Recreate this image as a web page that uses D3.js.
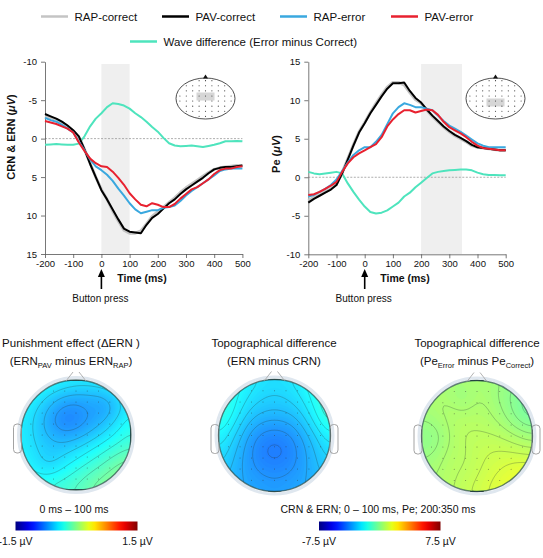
<!DOCTYPE html>
<html>
<head>
<meta charset="utf-8">
<script src="https://cdn.jsdelivr.net/npm/d3@7"></script>
<style>
  body { margin: 0; background: #fff; }
  text { font-family: "Liberation Sans", Arial, Helvetica, sans-serif; fill: #111; }
</style>
</head>
<body>
<svg id="fig" width="543" height="558"></svg>
<script>
// ---- data ----
const times = [-200,-180,-160,-140,-120,-100,-80,-60,-40,-20,0,20,40,60,80,100,120,140,160,180,200,220,240,260,280,300,320,340,360,380,400,420,440,460,480,500];

// CRN & ERN panel (uV, plotted with negative up)
const ernRapCorrect = [-2.9,-2.7,-2.5,-2.1,-1.6,-1.0,-0.2,1.4,3.2,5.0,6.6,7.9,9.4,10.7,11.9,12.3,12.3,12.0,11.1,10.1,9.5,8.9,8.3,7.7,7.0,6.4,5.9,5.4,4.9,4.4,4.0,3.8,3.7,3.6,3.5,3.5];
const ernPavCorrect = [-3.2,-2.9,-2.6,-2.2,-1.7,-1.1,-0.3,1.4,3.3,5.0,6.7,7.9,9.2,10.5,11.7,12.1,12.2,12.3,11.2,10.3,9.8,9.1,8.4,7.9,7.2,6.6,6.1,5.6,5.1,4.5,4.0,3.8,3.7,3.7,3.6,3.5];
const ernRapError   = [-2.7,-2.4,-2.2,-1.8,-1.3,-0.8,0.4,1.5,2.7,3.6,4.1,4.7,5.5,6.5,7.4,8.4,9.2,9.7,9.5,9.3,9.3,9.0,8.9,8.7,8.1,7.4,6.8,6.3,5.8,5.3,4.8,4.2,4.0,3.9,3.9,3.9];
const ernPavError   = [-2.3,-2.1,-1.9,-1.6,-1.3,-0.8,0.5,1.6,2.6,3.2,3.6,3.7,4.3,5.1,6.0,7.1,7.9,8.6,8.8,8.4,8.6,8.9,8.9,8.5,7.8,7.2,6.6,6.3,5.8,5.3,4.6,4.1,3.9,3.9,3.7,3.6];
const ernWaveDiff   = [0.8,0.75,0.7,0.75,0.8,0.8,0.65,-0.3,-1.6,-2.6,-3.3,-4.1,-4.6,-4.5,-4.3,-3.9,-3.3,-2.8,-2.2,-1.5,-0.9,-0.1,0.6,0.9,1.0,0.95,0.9,1.0,1.1,0.95,0.8,0.6,0.35,0.35,0.3,0.35];

// Pe panel (uV)
const peRapCorrect = [-3.0,-2.6,-2.3,-1.9,-1.5,-0.9,0.6,2.4,4.2,5.9,7.1,8.4,9.6,10.7,11.7,12.3,12.3,12.0,11.0,10.1,9.6,8.7,7.9,7.2,6.5,5.9,5.4,5.0,4.6,4.1,3.9,3.8,3.7,3.6,3.5,3.5];
const pePavCorrect = [-3.3,-2.8,-2.4,-2.0,-1.6,-1.0,0.5,2.3,4.1,5.8,7.0,8.3,9.4,10.5,11.5,12.2,12.2,12.3,11.2,10.3,9.7,8.8,8.0,7.3,6.6,6.0,5.5,5.1,4.7,4.2,3.9,3.8,3.7,3.6,3.5,3.5];
const peRapError   = [-2.5,-2.3,-1.9,-1.5,-1.0,-0.3,0.8,1.9,2.9,3.5,3.9,3.9,4.6,5.5,6.9,8.3,9.1,9.6,9.4,9.1,9.1,8.9,8.7,8.0,7.3,6.7,6.3,5.9,5.4,4.9,4.4,4.1,3.9,3.9,3.9,3.9];
const pePavError   = [-2.3,-2.2,-1.9,-1.5,-1.1,-0.6,0.7,1.8,2.6,3.1,3.5,3.9,4.3,5.2,6.6,7.5,8.2,8.7,8.7,8.4,8.6,8.8,8.7,8.1,7.2,6.5,6.1,5.7,5.2,4.6,4.1,3.8,3.7,3.6,3.5,3.5];
const peWaveDiff   = [0.7,0.5,0.4,0.5,0.6,0.7,0.5,-0.8,-1.9,-2.9,-3.8,-4.5,-4.7,-4.6,-4.3,-3.8,-3.3,-2.5,-2.0,-1.3,-0.7,-0.1,0.5,0.7,0.8,0.9,0.95,1.0,1.0,0.9,0.6,0.4,0.3,0.3,0.25,0.25];

const seriesNames  = ["RAP-correct", "PAV-correct", "RAP-error", "PAV-error", "Wave difference (Error minus Correct)"];
const seriesColors = ["#c4c4c4", "#000000", "#3aa8df", "#e8212f", "#4ee4bd"];
const xTicks = [-200,-100,0,100,200,300,400,500];
const ernTicks = [-10,-5,0,5,10,15];
const peTicks = [-10,-5,0,5,10,15];

// topographies: 9x9 grid values over the head, rows front->back, cols left->right (uV)
const topoPunish = [
  [-0.30,-0.32,-0.35,-0.40,-0.42,-0.42,-0.40,-0.35,-0.30],
  [-0.35,-0.40,-0.50,-0.58,-0.62,-0.62,-0.60,-0.50,-0.38],
  [-0.40,-0.48,-0.62,-0.74,-0.76,-0.68,-0.72,-0.58,-0.42],
  [-0.42,-0.52,-0.68,-0.80,-0.78,-0.70,-0.62,-0.48,-0.34],
  [-0.42,-0.52,-0.62,-0.68,-0.66,-0.58,-0.48,-0.38,-0.28],
  [-0.40,-0.50,-0.55,-0.56,-0.50,-0.42,-0.34,-0.26,-0.20],
  [-0.38,-0.46,-0.56,-0.46,-0.38,-0.30,-0.22,-0.12,-0.06],
  [-0.34,-0.38,-0.40,-0.34,-0.26,-0.18,-0.10,-0.02,0.02],
  [-0.30,-0.30,-0.28,-0.22,-0.18,-0.10,-0.02,0.02,0.04]
];
const topoErnCrn = [
  [-1.4,-1.6,-2.0,-2.3,-2.4,-2.3,-2.0,-1.5,-1.2],
  [-1.3,-1.7,-2.2,-2.5,-2.6,-2.5,-2.2,-1.6,-1.1],
  [-1.2,-1.8,-2.5,-2.8,-2.9,-2.8,-2.5,-1.8,-1.1],
  [-1.5,-2.1,-2.9,-3.3,-3.4,-3.3,-2.9,-2.1,-1.4],
  [-1.9,-2.5,-3.3,-3.8,-3.9,-3.8,-3.3,-2.6,-1.9],
  [-2.2,-2.8,-3.5,-4.0,-4.2,-4.0,-3.5,-2.9,-2.3],
  [-2.5,-3.0,-3.5,-3.9,-4.0,-3.9,-3.5,-3.0,-2.6],
  [-2.8,-3.1,-3.4,-3.6,-3.7,-3.6,-3.4,-3.1,-2.8],
  [-3.0,-3.2,-3.3,-3.4,-3.5,-3.4,-3.3,-3.2,-3.0]
];
const topoPe = [
  [0.5,0.5,0.4,0.4,0.5,0.4,0.2,0.0,-0.2],
  [0.5,0.5,0.4,0.2,0.5,0.4,0.1,-0.2,-0.4],
  [0.4,0.5,0.6,0.4,0.6,0.5,0.2,-0.2,-0.5],
  [0.2,0.3,0.6,0.7,0.7,0.6,0.4,0.0,-0.2],
  [0.0,0.1,0.5,0.8,0.8,0.8,0.7,0.5,0.3],
  [0.1,0.2,0.6,0.7,0.9,1.0,1.0,0.9,0.8],
  [0.3,0.4,0.7,0.7,0.9,1.1,1.2,1.3,1.3],
  [0.4,0.5,0.7,0.8,1.0,1.2,1.4,1.6,1.6],
  [0.5,0.6,0.7,0.9,1.1,1.3,1.5,1.7,1.7]
];
const punishRange = [-1.5, 1.5];
const diffRange = [-7.5, 7.5];

// ---- helpers ----
const svg = d3.select("#fig");

function jet(p) {
  p = Math.max(0, Math.min(1, p));
  const c = v => 255 * Math.max(0, Math.min(1, v));
  return d3.rgb(c(Math.min(4*p - 1.5, -4*p + 4.5)), c(Math.min(4*p - 0.5, -4*p + 3.5)), c(Math.min(4*p + 0.5, -4*p + 2.5)));
}

function yTitle(g, x, y, label) {
  const t = g.append("text")
    .attr("transform", "translate(" + x + "," + y + ") rotate(-90)")
    .attr("text-anchor", "middle")
    .style("font-size", "11px").style("font-weight", "bold");
  t.append("tspan").text(label + " (");
  t.append("tspan").style("font-style", "italic").text("\u03bcV");
  t.append("tspan").text(")");
}

function lineChart(cfg) {
  const g = svg.append("g");
  const x = d3.scaleLinear().domain([-200, 500]).range(cfg.xRange);
  const y = d3.scaleLinear().domain([-10, 15]).range(cfg.yRange);

  g.append("rect")
    .attr("x", x(cfg.shade[0])).attr("width", x(cfg.shade[1]) - x(cfg.shade[0]))
    .attr("y", 64).attr("height", 254 - 64)
    .attr("fill", "#efefef");

  g.append("line")
    .attr("x1", x(-200)).attr("x2", x(500)).attr("y1", y(0)).attr("y2", y(0))
    .attr("stroke", "#999").attr("stroke-width", 0.8).attr("stroke-dasharray", "2,1.5");

  const fmt = d => String(d);
  const yAxis = g.append("g")
    .attr("transform", "translate(" + cfg.xRange[0] + ",0)")
    .call(d3.axisLeft(y).tickValues(cfg.yTicks).tickFormat(fmt).tickSize(4).tickSizeOuter(0).tickPadding(4));
  const xAxis = g.append("g")
    .attr("transform", "translate(0," + d3.max(cfg.yRange) + ")")
    .call(d3.axisBottom(x).tickValues(xTicks).tickFormat(fmt).tickSize(4).tickSizeOuter(0).tickPadding(2));
  [xAxis, yAxis].forEach(a => {
    a.selectAll("path, line").attr("stroke", "#555").attr("stroke-width", 0.8);
    a.selectAll("text").style("font-size", "9.5px").attr("fill", "#111").style("font-family", '"Liberation Sans", Arial, sans-serif');
  });

  const line = d3.line().x((d, i) => x(times[i])).y(d => y(d));
  const widths = [3, 2, 2, 2, 2];
  [4, 0, 1, 2, 3].forEach(k => {
    g.append("path").datum(cfg.series[k])
      .attr("d", line).attr("fill", "none")
      .attr("stroke", seriesColors[k]).attr("stroke-width", widths[k])
      .attr("stroke-linejoin", "round");
  });

  g.append("text").attr("x", cfg.timeX).attr("y", 281.5)
    .attr("text-anchor", "middle").style("font-size", "10.5px").style("font-weight", "bold")
    .text("Time (ms)");

  const x0 = x(0);
  g.append("line").attr("x1", x0).attr("x2", x0).attr("y1", 275).attr("y2", 289)
    .attr("stroke", "#000").attr("stroke-width", 1.6);
  g.append("path").attr("d", "M" + (x0 - 3.5) + ",277L" + x0 + ",269L" + (x0 + 3.5) + ",277Z").attr("fill", "#000");
  g.append("text").attr("x", x0 - 1).attr("y", 301.5).attr("text-anchor", "middle")
    .style("font-size", "10px").text("Button press");

  yTitle(g, cfg.titleX, cfg.titleY, cfg.title);

  // electrode inset
  const ins = g.append("g").attr("transform", "translate(" + cfg.inset[0] + "," + cfg.inset[1] + ")");
  ins.append("ellipse").attr("rx", 29.5).attr("ry", 20.5).attr("fill", "#fff").attr("stroke", "#222").attr("stroke-width", 0.8);
  ins.append("rect").attr("x", cfg.roi[0]).attr("y", cfg.roi[1]).attr("width", 18).attr("height", 8).attr("fill", "#d6d6d6");
  ins.append("path").attr("d", "M-2.5,-20L0,-24L2.5,-20Z").attr("fill", "#111");
  const dots = [];
  for (let r = -3.5; r <= 3.5; r++) for (let c = -4; c <= 4; c++) {
    const px = c * 6.4, py = r * 5.1;
    if ((px * px) / (27 * 27) + (py * py) / (19.5 * 19.5) <= 1) dots.push([px, py]);
  }
  ins.selectAll("circle.e").data(dots).enter().append("circle")
    .attr("cx", d => d[0]).attr("cy", d => d[1]).attr("r", 0.55).attr("fill", "#333");
}

lineChart({
  xRange: [45, 242.4], yRange: [61.7, 254], yTicks: ernTicks, shade: [0, 100],
  series: [ernRapCorrect, ernPavCorrect, ernRapError, ernPavError, ernWaveDiff],
  title: "CRN & ERN", titleX: 15, titleY: 137, timeX: 142, inset: [205.5, 98.5], roi: [-9, -6]
});
lineChart({
  xRange: [308.3, 505.7], yRange: [254.3, 61.7], yTicks: peTicks, shade: [200, 345],
  series: [peRapCorrect, pePavCorrect, peRapError, pePavError, peWaveDiff],
  title: "Pe", titleX: 280, titleY: 154, timeX: 405, inset: [495.5, 98.5], roi: [-9, 0]
});

// ---- legend ----
const legendPos = [[41, 16.5], [162, 16.5], [280, 16.5], [391, 16.5], [130, 41.5]];
const leg = svg.append("g");
seriesNames.forEach((name, i) => {
  const [lx, ly] = legendPos[i];
  leg.append("line").attr("x1", lx).attr("x2", lx + 27).attr("y1", ly).attr("y2", ly)
    .attr("stroke", seriesColors[i]).attr("stroke-width", 2.5);
  leg.append("text").attr("x", lx + 33.5).attr("y", ly + 4).style("font-size", "11.5px").text(name);
});

// ---- topographic maps ----
function topoMap(grid, cx, cy, r, domain, lineStep, ears, id) {
  const color = d3.scaleSequential(jet).domain(domain);
  const n = grid.length, f = 5, m = (n - 1) * f + 1;
  const vals = new Array(m * m);
  for (let j = 0; j < m; j++) for (let i = 0; i < m; i++) {
    const gx = i / f, gy = j / f;
    const i0 = Math.min(n - 2, Math.floor(gx)), j0 = Math.min(n - 2, Math.floor(gy));
    const tx = gx - i0, ty = gy - j0;
    vals[j * m + i] = (1 - ty) * ((1 - tx) * grid[j0][i0] + tx * grid[j0][i0 + 1]) +
                      ty * ((1 - tx) * grid[j0 + 1][i0] + tx * grid[j0 + 1][i0 + 1]);
  }
  let field = vals;
  if (d3.blur2) field = d3.blur2({data: Float64Array.from(vals), width: m, height: m}, 2).data;
  const path = d3.geoPath(d3.geoIdentity().scale(2 * r / m).translate([cx - r, cy - r]));

  const g = svg.append("g");
  g.append("clipPath").attr("id", id).append("circle").attr("cx", cx).attr("cy", cy).attr("r", r);
  g.append("circle").attr("cx", cx).attr("cy", cy).attr("r", r + 2.5).attr("fill", "none")
    .attr("stroke", "#dfe7ef").attr("stroke-width", 3);

  const step = (domain[1] - domain[0]) / 200;
  const fillT = d3.range(domain[0] - step, domain[1], step);
  const fills = d3.contours().size([m, m]).thresholds(fillT)(field);
  const body = g.append("g").attr("clip-path", "url(#" + id + ")");
  const fg = body.append("g").attr("opacity", 0.88);
  fg.append("rect").attr("x", cx - r).attr("y", cy - r).attr("width", 2 * r).attr("height", 2 * r).attr("fill", color(d3.min(field)));
  fg.selectAll("path").data(fills.filter(c => c.coordinates.length)).enter().append("path")
    .attr("d", path).attr("fill", c => color(c.value + step / 2));

  const lineT = d3.range(domain[0], domain[1] + 1e-9, lineStep);
  const lines = d3.contours().size([m, m]).thresholds(lineT)(field);
  body.selectAll("path.iso").data(lines.filter(c => c.coordinates.length)).enter().append("path")
    .attr("class", "iso").attr("d", path).attr("fill", "none")
    .attr("stroke", "#2b3b3b").attr("stroke-opacity", 0.55).attr("stroke-width", 0.5);

  const dots = [];
  for (let a = -4; a <= 4; a++) for (let b = -4; b <= 4; b++) {
    const px = b * 0.205 * r, py = a * 0.2 * r;
    if (px * px + py * py <= (0.9 * r) * (0.9 * r)) dots.push([cx + px, cy + py]);
  }
  body.selectAll("circle.e").data(dots).enter().append("circle")
    .attr("cx", d => d[0]).attr("cy", d => d[1]).attr("r", 0.5).attr("fill", "#333").attr("opacity", 0.6);

  g.append("circle").attr("cx", cx).attr("cy", cy).attr("r", r).attr("fill", "none")
    .attr("stroke", "#234848").attr("stroke-opacity", 0.7).attr("stroke-width", 1.4);
  g.append("path").attr("d", "M" + (cx - 10) + "," + (cy - r + 1) + "L" + (cx - 3) + "," + (cy - r - 8) +
      "M" + (cx + 10) + "," + (cy - r + 1) + "L" + (cx + 3) + "," + (cy - r - 8))
    .attr("fill", "none").attr("stroke", "#aaa").attr("stroke-width", 0.9);
  ears.forEach(s => {
    g.append("rect").attr("x", s < 0 ? cx - r - 7.5 : cx + r - 0.5).attr("y", cy - 11)
      .attr("width", 8).attr("height", 29).attr("rx", 3.5)
      .attr("fill", "none").attr("stroke", "#999").attr("stroke-width", 0.9);
  });
}

topoMap(topoPunish, 76, 435, 55, punishRange, 0.1, [-1], "clipA");
topoMap(topoErnCrn, 274.5, 435.5, 56, diffRange, 0.35, [-1, 1], "clipB");
topoMap(topoPe, 477, 436, 55.5, diffRange, 0.25, [-1, 1], "clipC");

// titles (plain strings, or {sub: "..."} for subscripts)
function title(cx, parts1, parts2) {
  [parts1, parts2].forEach((parts, row) => {
    const t = svg.append("text").attr("x", cx).attr("y", row ? 364.5 : 347)
      .attr("text-anchor", "middle").style("font-size", "11.5px");
    let shifted = false;
    parts.forEach(p => {
      if (typeof p === "string") {
        t.append("tspan").attr("dy", shifted ? -3 : 0).text(p);
        shifted = false;
      } else {
        t.append("tspan").attr("dy", 3).style("font-size", "7.5px").text(p.sub);
        shifted = true;
      }
    });
  });
}
title(71, ["Punishment effect (\u0394ERN )"], ["(ERN", {sub: "PAV"}, " minus ERN", {sub: "RAP"}, ")"]);
title(274, ["Topographical difference"], ["(ERN minus CRN)"]);
title(477, ["Topographical difference"], ["(Pe", {sub: "Error"}, " minus Pe", {sub: "Correct"}, ")"]);

// colour bars
const defs = svg.append("defs");
const grad = defs.append("linearGradient").attr("id", "jetGrad");
d3.range(0, 1.0001, 0.05).forEach(p => grad.append("stop").attr("offset", p).attr("stop-color", jet(p)));

function colorBar(x0, x1, domain, caption, capX) {
  const s = d3.scaleLinear().domain(domain).range([x0, x1]);
  svg.append("rect").attr("x", x0).attr("y", 521.5).attr("width", x1 - x0).attr("height", 9)
    .attr("fill", "url(#jetGrad)");
  svg.append("text").attr("x", capX).attr("y", 513).attr("text-anchor", "middle")
    .style("font-size", "10.5px").text(caption);
  domain.forEach(v => {
    svg.append("text").attr("x", s(v)).attr("y", 545).attr("text-anchor", "middle")
      .style("font-size", "10.5px").text(v.toFixed(1) + " \u00b5V");
  });
}
colorBar(15.5, 137.5, punishRange, "0 ms \u2013 100 ms", 74);
colorBar(319, 440.5, diffRange, "CRN & ERN; 0 \u2013 100 ms, Pe; 200:350 ms", 378);
</script>
</body>
</html>
